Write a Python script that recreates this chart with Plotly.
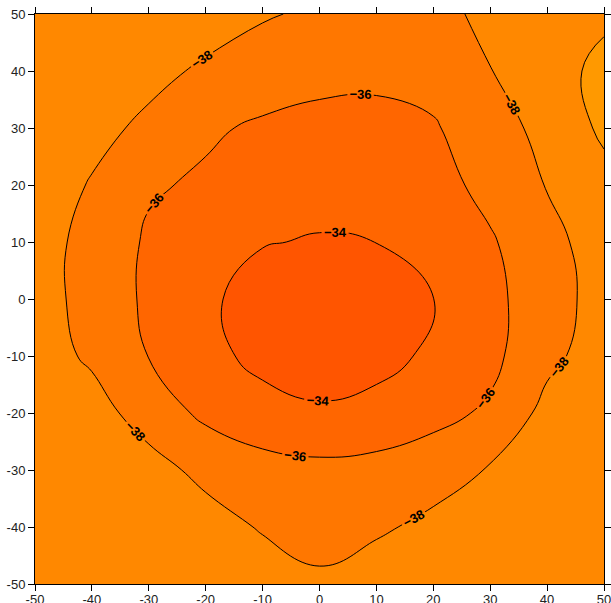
import plotly.graph_objects as go

x_vals = [-50, -40, -30, -20, -10, 0, 10, 20, 30, 40, 50]
y_vals = [-50, -40, -30, -20, -10, 0, 10, 20, 30, 40, 50]

row_m50 = [-39.7, -39.7, -39.7, -39.6, -39.2, -38.32, -39.1, -39.5, -39.7, -39.7, -39.7]
row_m40 = [-39.7, -39.7, -39.7, -38.93, -37.81, -37.3, -37.69, -38.5, -39.4, -39.7, -39.7]
row_m30 = [-39.7, -39.7, -38.82, -37.4, -36.75, -36.5, -36.65, -37.1, -38.16, -39.5, -39.7]
row_m20 = [-39.7, -38.9, -37.02, -35.62, -34.72, -34.28, -34.64, -35.42, -36.3, -38.6, -39.7]
row_m10 = [-39.0, -37.66, -35.96, -34.57, -33.47, -32.96, -33.36, -34.35, -35.5, -37.51, -38.95]
row_0 = [-38.87, -37.28, -35.66, -34.37, -33.16, -32.64, -32.85, -33.95, -35.48, -37.14, -38.77]
row_p10 = [-38.9, -37.31, -35.75, -34.73, -34.1, -33.86, -34.01, -34.68, -35.79, -37.39, -38.93]
row_p20 = [-39.25, -37.84, -36.2, -35.75, -34.96, -34.72, -34.74, -35.28, -36.58, -38.09, -39.4]
row_p30 = [-39.7, -38.65, -37.55, -36.25, -35.75, -35.52, -35.51, -35.82, -37.14, -38.6, -40.35]
row_p40 = [-39.7, -39.6, -38.6, -37.67, -36.92, -36.48, -36.37, -36.69, -37.95, -39.4, -40.38]
row_p50 = [-39.7, -39.7, -39.7, -39.0, -38.2, -37.65, -37.4, -37.5, -38.4, -39.6, -39.75]

z_grid = [row_m50, row_m40, row_m30, row_m20, row_m10, row_0,
          row_p10, row_p20, row_p30, row_p40, row_p50]

band_colors = ['#FF9900', '#FF8800', '#FF7700', '#FF6600', '#FF5500']
tick_vals = [-50, -40, -30, -20, -10, 0, 10, 20, 30, 40, 50]
tick_text = ['-50', '-40', '-30', '-20', '-10', '0', '10', '20', '30', '40', '50']

colorscale = [[i / (len(band_colors) - 1), c] for i, c in enumerate(band_colors)]

fig = go.Figure()
fig.add_trace(go.Contour(
    x=x_vals, y=y_vals, z=z_grid,
    colorscale=colorscale, showscale=False,
    contours=dict(start=-40, end=-34, size=2, coloring='fill'),
    line=dict(width=0, smoothing=1.3),
    hoverinfo='skip'))
# labelled contour lines (extra empty levels above the data range only make
# plotly space the labels more densely; no lines exist for them)
fig.add_trace(go.Contour(
    x=x_vals, y=y_vals, z=z_grid, showscale=False,
    contours=dict(start=-38, end=50, size=2, coloring='none', showlabels=True,
                  labelfont=dict(family='Liberation Sans, Arial', size=13, color='black', weight='bold')),
    line=dict(width=1, color='black', smoothing=1.3),
    hoverinfo='skip'))
fig.add_trace(go.Contour(
    x=x_vals, y=y_vals, z=z_grid, showscale=False,
    contours=dict(start=-40, end=-40, size=2, coloring='none', showlabels=False),
    line=dict(width=1, color='black', smoothing=1.3),
    hoverinfo='skip'))

axis_common = dict(range=[-50, 50], tickmode='array', tickvals=tick_vals, ticktext=tick_text,
                   ticks='outside', ticklen=6, automargin=False, ticklabeloverflow='allow',
                   tickcolor='black', showline=True, linecolor='black', linewidth=1,
                   mirror='ticks', showgrid=False, zeroline=False,
                   tickfont=dict(family='Liberation Sans, Arial', size=13, color='#222'))
fig.update_layout(
    width=611, height=603,
    margin=dict(l=35, r=7, t=14, b=19),
    paper_bgcolor='white', plot_bgcolor='white',
    xaxis=dict(**axis_common, ticklabelstandoff=-3),
    yaxis=dict(**axis_common),
    showlegend=False)

fig.write_html("out.html")
